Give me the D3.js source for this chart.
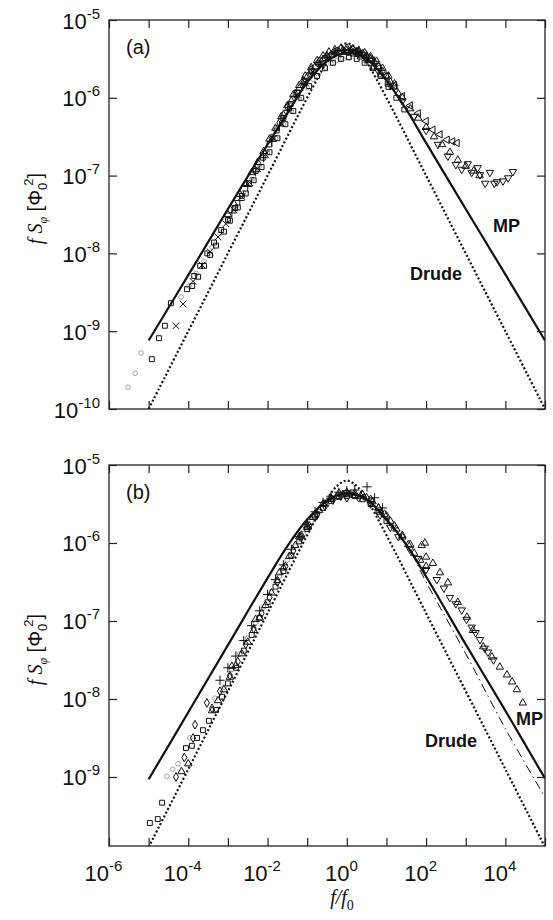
<!DOCTYPE html>
<html>
<head>
<meta charset="utf-8">
<script src="https://cdn.jsdelivr.net/npm/d3@7"></script>
<style>
  body { margin: 0; background: #fff; }
</style>
</head>
<body>
<div id="chart"></div>
<script>
// everything, stored as [log10(f/f0), log10(f S_phi)]
const xTickExps = [-6, -5, -4, -3, -2, -1, 0, 1, 2, 3, 4, 5];
const xLabelExps = [-6, -4, -2, 0, 2, 4];
const yTickExpsA = [-10, -9, -8, -7, -6, -5];
const yTickExpsB = [-9, -8, -7, -6, -5];

// panel (a) model curves
const mpA = [[-5,-9.12],[-4,-8.28],[-3,-7.43],[-2,-6.6],[-1.5,-6.2],[-1,-5.8],[-0.5,-5.53],[0,-5.42],
  [0.5,-5.5],[1,-5.78],[1.5,-6.15],[2,-6.58],[3,-7.43],[4,-8.27],[5,-9.12]];
const drudeA = [[-5,-10],[-4,-9],[-3,-8],[-2,-7],[-1,-6.0],[-0.5,-5.54],[-0.25,-5.37],[0,-5.3],
  [0.25,-5.37],[0.5,-5.54],[1,-6.0],[2,-7],[3,-8],[4,-9],[5,-10]];

// panel (a) data
const aCircles = [[-5.52,-9.72],[-5.34,-9.54],[-5.19,-9.28],[-4.18,-8.56],[-3.98,-8.42],[-3.8,-8.26],[-3.6,-8.1],
  [-3.4,-7.92],[-3.2,-7.74],[-3.0,-7.57],[-2.8,-7.4],[-2.6,-7.22],[-2.4,-7.05],[-2.2,-6.88],[-2.0,-6.7],
  [-1.8,-6.52],[-1.6,-6.34],[-1.4,-6.17],[-1.2,-6.01],[-1.0,-5.87],[-0.85,-5.76],[-0.7,-5.67],[-0.55,-5.61],
  [-0.4,-5.56],[-0.25,-5.52],[-0.1,-5.5],[0.05,-5.48]];
const aSquares = [[-4.92,-9.36],[-4.74,-9.09],[-4.59,-8.93],[-4.44,-8.64],[-4.03,-8.46],[-3.85,-8.29],[-3.7,-8.16],
  [-3.52,-8.0],[-3.35,-7.86],[-3.17,-7.7],[-3.0,-7.57],[-2.82,-7.42],[-2.65,-7.26],[-2.47,-7.1],[-2.3,-6.94],
  [-2.12,-6.77],[-1.95,-6.6],[-1.77,-6.42],[-1.6,-6.26],[-1.42,-6.08],[-1.25,-5.93],[-1.07,-5.79],[-0.9,-5.66],
  [-0.72,-5.56],[-0.55,-5.49],[-0.37,-5.45],[-0.2,-5.42],[-0.02,-5.41],[0.15,-5.43],[0.33,-5.47],[0.5,-5.52],
  [0.68,-5.6],[0.85,-5.7],[1.03,-5.82]];
const aCrosses = [[-4.31,-8.93],[-4.13,-8.65],[-3.88,-8.36],[-3.65,-8.15],[-3.45,-7.98],[-3.25,-7.79],[-3.05,-7.62],
  [-2.85,-7.44],[-2.65,-7.27],[-2.45,-7.09],[-2.25,-6.91],[-2.05,-6.73],[-1.85,-6.52],[-1.65,-6.33],[-1.45,-6.12],
  [-1.25,-5.96],[-1.05,-5.8],[-0.85,-5.67],[-0.65,-5.56],[-0.45,-5.49],[-0.25,-5.44],[-0.05,-5.41],[0.15,-5.41],[0.35,-5.45]];
const aPluses = [[-2.9,-7.48],[-2.7,-7.32],[-2.5,-7.14],[-2.3,-6.95],[-2.1,-6.77],[-1.9,-6.56],[-1.7,-6.36],[-1.5,-6.16],
  [-1.3,-5.98],[-1.1,-5.82],[-0.9,-5.68],[-0.7,-5.57],[-0.5,-5.48],[-0.3,-5.42],[-0.1,-5.39],[0.1,-5.38],[0.3,-5.4],
  [0.5,-5.45],[0.7,-5.53]];
const aDiamonds = [[-1.9,-6.52],[-1.7,-6.32],[-1.5,-6.12],[-1.3,-5.95],[-1.1,-5.78],[-0.9,-5.64],[-0.7,-5.53],[-0.5,-5.46],
  [-0.3,-5.41],[-0.1,-5.39],[0.1,-5.39],[0.3,-5.41],[0.5,-5.46],[0.7,-5.55],[0.9,-5.66],[1.1,-5.8],[1.3,-5.95]];
const aTriUp = [[-1.6,-6.22],[-1.4,-6.04],[-1.2,-5.88],[-1.0,-5.73],[-0.8,-5.6],[-0.6,-5.51],[-0.4,-5.45],[-0.2,-5.41],
  [0,-5.39],[0.2,-5.4],[0.4,-5.43],[0.6,-5.5],[0.8,-5.6],[1.0,-5.72],[1.2,-5.86],[1.4,-6.0],[1.6,-6.14],[1.8,-6.26],
  [2.0,-6.38],[2.2,-6.5],[2.4,-6.6],[2.6,-6.7],[2.8,-6.8],[3.0,-6.88],[3.2,-6.94],[3.35,-7.0]];
const aTriUp2 = [[-3.0,-7.5],[-2.85,-7.36],[-2.7,-7.24],[-2.55,-7.1],[-2.4,-6.96],[-2.25,-6.83],[-2.1,-6.69],
  [-1.95,-6.53],[-1.8,-6.39],[-1.65,-6.24],[-1.5,-6.1],[-1.35,-5.96],[-1.2,-5.84],[-1.05,-5.72],[-0.9,-5.61],
  [-0.75,-5.52],[-0.6,-5.46],[-0.45,-5.41],[-0.3,-5.38],[-0.15,-5.36],[0.0,-5.36],[0.15,-5.37],[0.3,-5.39],
  [0.45,-5.42],[0.6,-5.47],[0.75,-5.53],[0.9,-5.62],[1.05,-5.72],[1.2,-5.82]];
const aSquares2 = [[-3.9,-8.42],[-3.75,-8.3],[-3.6,-8.16],[-3.45,-8.02],[-3.3,-7.9],[-3.1,-7.72],[-2.95,-7.58],
  [-2.75,-7.41],[-2.55,-7.23],[-2.35,-7.06],[-2.15,-6.89],[-1.95,-6.7],[-1.75,-6.52],[-1.55,-6.34],[-1.35,-6.17],
  [-1.15,-6.0],[-0.95,-5.85],[-0.75,-5.72],[-0.55,-5.62],[-0.35,-5.55],[-0.15,-5.5],[0.05,-5.48],[0.25,-5.5],
  [0.45,-5.55],[0.65,-5.62],[0.85,-5.72],[1.05,-5.86],[1.25,-6.0],[1.45,-6.15]];
const aTriLeft = [[0.0,-5.41],[0.2,-5.42],[0.4,-5.46],[0.6,-5.52],[0.8,-5.62],[1.0,-5.72],[1.2,-5.84],[1.4,-5.98],
  [1.6,-6.1],[1.8,-6.2],[2.0,-6.3],[2.17,-6.41],[2.35,-6.47],[2.53,-6.54],[2.67,-6.56],[2.78,-6.58]];
const aTriDown = [[0.5,-5.5],[0.8,-5.66],[1.1,-5.84],[1.4,-6.04],[1.7,-6.24],[2.0,-6.42],[2.3,-6.6],[2.55,-6.75],
  [2.75,-6.86],[2.9,-6.92],[3.05,-6.85],[3.15,-6.96],[3.3,-6.9],[3.36,-6.99],[3.49,-7.1],[3.61,-6.96],[3.72,-7.1],
  [3.79,-7.08],[3.94,-7.07],[4.07,-7.03],[4.19,-6.95]];

// panel (b) model curves
const mpB = [[-5,-9.03],[-4,-8.17],[-3,-7.31],[-2,-6.45],[-1.5,-6.04],[-1,-5.7],[-0.5,-5.46],[0,-5.36],
  [0.5,-5.44],[1,-5.7],[1.5,-6.02],[2,-6.43],[3,-7.3],[4,-8.15],[5,-9.02]];
const drudeB = [[-5,-9.9],[-4,-8.9],[-3,-7.9],[-2,-6.9],[-1,-5.9],[-0.5,-5.44],[-0.25,-5.27],[0,-5.2],
  [0.25,-5.27],[0.5,-5.44],[1,-5.9],[2,-6.9],[3,-7.9],[4,-8.9],[5,-9.9]];
const dashDotB = [[0,-5.32],[0.5,-5.45],[1,-5.72],[1.5,-6.02],[2,-6.5],[3,-7.42],[4,-8.38],[5,-9.26]];

// panel (b) data
const bCircles = [[-4.54,-8.99],[-4.39,-8.9],[-4.26,-8.83],[-3.96,-8.5],[-3.33,-7.99],[-3.1,-7.85],[-2.9,-7.62],
  [-2.7,-7.42],[-2.5,-7.22],[-2.3,-7.02],[-2.1,-6.82],[-1.9,-6.62],[-1.7,-6.42],[-1.5,-6.22],[-1.3,-6.04],
  [-1.1,-5.88],[-0.9,-5.72],[-0.7,-5.6],[-0.5,-5.5]];
const bSquares = [[-4.97,-9.59],[-4.77,-9.54],[-4.66,-9.33],[-4.06,-8.63],[-3.91,-8.6],[-3.78,-8.5],[-3.63,-8.4],
  [-3.48,-8.28],[-3.3,-8.14],[-3.15,-7.97],[-3.0,-7.8],[-2.8,-7.6],[-2.6,-7.38],[-2.4,-7.18],[-2.2,-6.96],
  [-2.0,-6.76],[-1.8,-6.56],[-1.6,-6.36],[-1.4,-6.16],[-1.2,-5.98],[-1.0,-5.82],[-0.8,-5.66],[-0.6,-5.55],
  [-0.4,-5.46],[-0.2,-5.41],[0,-5.4],[0.2,-5.4],[0.4,-5.44],[0.6,-5.5],[0.8,-5.6],[1.0,-5.72]];
const bDiamonds = [[-4.31,-9.0],[-4.1,-8.75],[-3.88,-8.5],[-3.83,-8.33],[-3.53,-8.05],[-3.4,-8.12],[-3.2,-7.9],
  [-2.95,-7.7],[-2.75,-7.52],[-2.55,-7.3],[-2.35,-7.1],[-2.15,-6.9],[-1.95,-6.7],[-1.75,-6.5],[-1.55,-6.3],
  [-1.35,-6.1],[-1.15,-5.93],[-0.95,-5.78],[-0.75,-5.64],[-0.55,-5.53],[-0.35,-5.45],[-0.15,-5.4]];
const bPluses = [[-3.2,-7.76],[-3.0,-7.6],[-2.8,-7.45],[-2.6,-7.25],[-2.4,-7.06],[-2.2,-6.87],[-2.0,-6.66],
  [-1.8,-6.47],[-1.6,-6.28],[-1.4,-6.08],[-1.2,-5.92],[-1.0,-5.76],[-0.8,-5.6],[-0.6,-5.48],[-0.4,-5.4],
  [-0.2,-5.35],[0,-5.33],[0.2,-5.32],[0.51,-5.28],[0.7,-5.42],[0.9,-5.55]];
const bTriUp = [[-4.17,-8.93],[-4.0,-8.83],[-2.9,-7.58],[-2.3,-6.98],[-1.7,-6.38],[-1.2,-5.92],[-1.0,-5.8],[-0.8,-5.64],
  [-0.6,-5.5],[-0.4,-5.42],[-0.2,-5.36],[0,-5.35],[0.2,-5.36],[0.4,-5.38],[0.6,-5.44],[0.8,-5.55],[1.0,-5.65],
  [1.2,-5.78],[1.4,-5.9],[1.6,-6.02],[1.89,-6.03],[1.97,-6.0],[2.0,-6.18],[2.17,-6.26],[2.35,-6.38],[2.55,-6.51],
  [2.8,-6.76],[3.03,-6.95],[3.18,-7.12],[3.44,-7.33],[3.66,-7.46],[3.86,-7.59],[4.04,-7.69],[4.17,-7.78],
  [4.29,-7.88],[4.44,-8.05]];
const bTriUp2 = [[-3.4,-8.15],[-3.25,-8.02],[-3.1,-7.88],[-2.95,-7.72],[-2.8,-7.57],[-2.65,-7.42],[-2.5,-7.27],
  [-2.35,-7.12],[-2.2,-6.96],[-2.05,-6.8],[-1.9,-6.64],[-1.75,-6.48],[-1.6,-6.32],[-1.45,-6.17],[-1.3,-6.03],
  [-1.15,-5.9],[-1.0,-5.78],[-0.85,-5.67],[-0.7,-5.58],[-0.55,-5.5],[-0.4,-5.44],[-0.25,-5.4],[-0.1,-5.38],
  [0.05,-5.38],[0.2,-5.39],[0.35,-5.4],[0.5,-5.42],[0.65,-5.47],[0.8,-5.55],[0.95,-5.63],[1.1,-5.72],
  [1.25,-5.82],[1.4,-5.92],[1.55,-6.02],[1.7,-6.13],[1.85,-6.22],[2.0,-6.3]];
const bTriDown = [[0.0,-5.42],[0.3,-5.42],[0.6,-5.5],[0.84,-5.64],[1.1,-5.8],[1.3,-5.92],[1.59,-6.08],[1.8,-6.2],
  [2.0,-6.34],[2.27,-6.47],[2.45,-6.58],[2.6,-6.7],[2.75,-6.78],[2.9,-6.86],[3.02,-6.98],[3.15,-7.08],[3.25,-7.15],
  [3.36,-7.24],[3.48,-7.35],[3.56,-7.4],[3.7,-7.5]];

const W = 553, H = 920;
const left = 109, right = 545;

const svg = d3.select("#chart").append("svg")
  .attr("width", W).attr("height", H)
  .style("background", "#fff")
  .style("font-family", "'Liberation Sans', Arial, sans-serif");

const p10 = e => Math.pow(10, e);

const symbols = {
  circle: d3.symbol(d3.symbolCircle, 17),
  square: d3.symbol(d3.symbolSquare, 24),
  diamond: d3.symbol(d3.symbolDiamond, 22),
  tri: d3.symbol(d3.symbolTriangle, 24),
  plus: d3.symbol(d3.symbolPlus, 30),
  times: d3.symbol(d3.symbolTimes, 30)
};

function supLabel(sel, exp) {
  sel.text(null);
  sel.append("tspan").text("10");
  sel.append("tspan").attr("dy", -10).attr("font-size", 15).text(exp);
}

function drawPanel(cfg) {
  const x = d3.scaleLog().domain([1e-6, 1e5]).range([left, right]);
  const y = d3.scaleLog().domain([cfg.yMin, 1e-5]).range([cfg.bottom, cfg.top]);
  const g = svg.append("g");
  const px = d => x(p10(d[0])), py = d => y(p10(d[1]));

  const clip = "clip-" + cfg.name;
  g.append("clipPath").attr("id", clip).append("rect")
    .attr("x", left).attr("y", cfg.top).attr("width", right - left).attr("height", cfg.bottom - cfg.top);

  // axes, ticks inward on all four sides
  const xVals = xTickExps.map(p10);
  const yVals = cfg.yTicks.map(p10);
  const bottomAx = g.append("g").attr("transform", `translate(0,${cfg.bottom})`)
    .call(d3.axisBottom(x).tickValues(xVals).tickSize(-8).tickSizeOuter(0).tickFormat(""));
  g.append("g").attr("transform", `translate(0,${cfg.top})`)
    .call(d3.axisTop(x).tickValues(xVals).tickSize(-8).tickSizeOuter(0).tickFormat(""));
  const leftAx = g.append("g").attr("transform", `translate(${left},0)`)
    .call(d3.axisLeft(y).tickValues(yVals).tickSize(-8).tickSizeOuter(0));
  g.append("g").attr("transform", `translate(${right},0)`)
    .call(d3.axisRight(y).tickValues(yVals).tickSize(-8).tickSizeOuter(0).tickFormat(""));

  g.selectAll(".domain").remove();
  g.selectAll(".tick line").attr("stroke", "#222").attr("stroke-width", 1.2);

  leftAx.selectAll(".tick text")
    .attr("x", -9).attr("dy", 8).attr("font-size", 22).attr("fill", "#111")
    .attr("font-family", "'Liberation Sans', Arial, sans-serif")
    .each(function(d) { supLabel(d3.select(this), String(Math.round(Math.log10(d)))); });

  if (cfg.xLabels) {
    bottomAx.selectAll(".tick")
      .filter(d => xLabelExps.includes(Math.round(Math.log10(d))))
      .append("text")
      .attr("y", 35).attr("dx", -6).attr("fill", "#111").attr("font-size", 22)
      .attr("text-anchor", "middle")
      .attr("font-family", "'Liberation Sans', Arial, sans-serif")
      .each(function(d) { supLabel(d3.select(this), String(Math.round(Math.log10(d)))); });
  }

  g.append("rect")
    .attr("x", left).attr("y", cfg.top)
    .attr("width", right - left).attr("height", cfg.bottom - cfg.top)
    .attr("fill", "none").attr("stroke", "#222").attr("stroke-width", 1.3);

  const plot = g.append("g").attr("clip-path", `url(#${clip})`);
  const line = d3.line().x(px).y(py).curve(d3.curveCatmullRom.alpha(0.5));

  // data markers
  cfg.series.forEach(s => {
    plot.append("g").selectAll("path")
      .data(s.data)
      .join("path")
      .attr("d", symbols[s.sym])
      .attr("transform", d => `translate(${px(d)},${py(d)}) rotate(${s.rot || 0})`)
      .attr("fill", "none")
      .attr("stroke", s.color || "#111")
      .attr("stroke-width", s.sw || 1);
  });

  // model curves
  plot.append("path").datum(cfg.drude).attr("d", line)
    .attr("fill", "none").attr("stroke", "#111").attr("stroke-width", 2.2)
    .attr("stroke-dasharray", "2,2.2");
  if (cfg.dashDot) {
    plot.append("path").datum(cfg.dashDot).attr("d", line)
      .attr("fill", "none").attr("stroke", "#111").attr("stroke-width", 1)
      .attr("stroke-dasharray", "9,4,1.5,4");
  }
  plot.append("path").datum(cfg.mp).attr("d", line)
    .attr("fill", "none").attr("stroke", "#111").attr("stroke-width", 2.2);

  // panel letter and curve names
  g.append("text").attr("x", 126).attr("y", cfg.top + 34)
    .attr("font-size", 20).attr("fill", "#111").text(cfg.name === "a" ? "(a)" : "(b)");
  g.append("text").attr("x", cfg.mpPos[0]).attr("y", cfg.mpPos[1])
    .attr("font-size", 18).attr("font-weight", "bold").attr("fill", "#111").text("MP");
  g.append("text").attr("x", cfg.drudePos[0]).attr("y", cfg.drudePos[1])
    .attr("font-size", 18).attr("font-weight", "bold").attr("fill", "#111").text("Drude");

  // y axis title: f S_phi [Phi_0^2]
  const cy = (cfg.top + cfg.bottom) / 2 - 6;
  const t = g.append("text")
    .attr("transform", `translate(42,${cy}) rotate(-90)`)
    .attr("text-anchor", "middle").attr("font-size", 20).attr("fill", "#111");
  t.append("tspan").attr("font-family", "'Liberation Serif', serif").attr("font-style", "italic").text("f S");
  t.append("tspan").attr("font-family", "'Liberation Serif', serif").attr("font-style", "italic")
    .attr("font-size", 12).attr("dy", 5).text("\u03C6");
  t.append("tspan").attr("dy", -5).text(" [\u03A6");
  t.append("tspan").attr("font-size", 13).attr("dy", 5).text("0");
  t.append("tspan").attr("font-size", 13).attr("dy", -14).attr("dx", -3).text("2");
  t.append("tspan").attr("dy", 9).text("]");
}

drawPanel({
  name: "a", top: 20, bottom: 409, yMin: 1e-10, yTicks: yTickExpsA, xLabels: false,
  mp: mpA, drude: drudeA,
  mpPos: [493, 232], drudePos: [410, 280],
  series: [
    { data: aCircles, sym: "circle", color: "#8a8a8a", sw: 0.8 },
    { data: aSquares, sym: "square" },
    { data: aSquares2, sym: "square" },
    { data: aCrosses, sym: "times" },
    { data: aPluses, sym: "plus" },
    { data: aDiamonds, sym: "diamond" },
    { data: aTriUp, sym: "tri" },
    { data: aTriUp2, sym: "tri" },
    { data: aTriLeft, sym: "tri", rot: -90 },
    { data: aTriDown, sym: "tri", rot: 180 }
  ]
});

drawPanel({
  name: "b", top: 465, bottom: 846, yMin: Math.pow(10, -9.885), yTicks: yTickExpsB, xLabels: true,
  mp: mpB, drude: drudeB, dashDot: dashDotB,
  mpPos: [516, 725], drudePos: [425, 747],
  series: [
    { data: bCircles, sym: "circle", color: "#8a8a8a", sw: 0.8 },
    { data: bSquares, sym: "square" },
    { data: bDiamonds, sym: "diamond" },
    { data: bPluses, sym: "plus" },
    { data: bTriUp, sym: "tri" },
    { data: bTriUp2, sym: "tri" },
    { data: bTriDown, sym: "tri", rot: 180 }
  ]
});

// x axis title f/f_0
const xt = svg.append("text").attr("x", 342).attr("y", 904)
  .attr("text-anchor", "middle").attr("font-size", 20).attr("fill", "#111")
  .attr("font-family", "'Liberation Serif', serif");
xt.append("tspan").attr("font-style", "italic").text("f/f");
xt.append("tspan").attr("font-size", 14).attr("dy", 6).text("0");
</script>
</body>
</html>
